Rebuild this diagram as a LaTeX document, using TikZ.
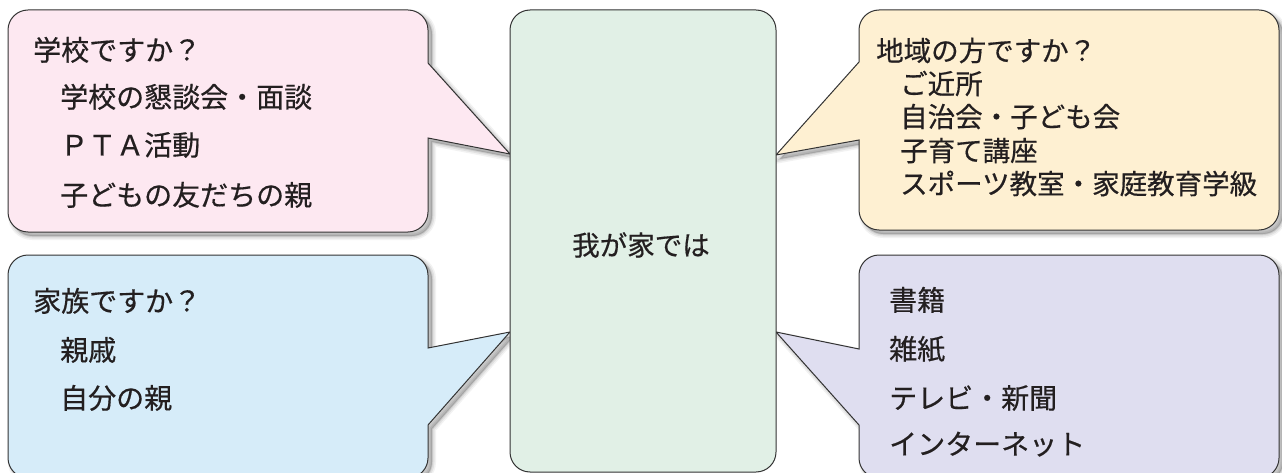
\documentclass[tikz,border=0pt]{standalone}
\usepackage{fontspec}
\setmainfont{Noto Sans CJK JP}[FakeBold=0.5]
\definecolor{cpink}{HTML}{FDE8F1}
\definecolor{corange}{HTML}{FEF0D2}
\definecolor{cblue}{HTML}{D6ECF9}
\definecolor{clav}{HTML}{DFDEF0}
\definecolor{cgreen}{HTML}{E1F0E6}
\definecolor{ctext}{HTML}{231F20}
\definecolor{cline}{HTML}{333333}
\tikzset{
  bub/.style={draw=cline, line width=1pt, line join=miter,
    preaction={draw=black, fill=black, opacity=0.05, line width=8pt, transform canvas={xshift=4pt,yshift=-4pt}},
    preaction={draw=black, fill=black, opacity=0.07, line width=5pt, transform canvas={xshift=4pt,yshift=-4pt}},
    preaction={draw=black, fill=black, opacity=0.09, line width=2pt, transform canvas={xshift=4pt,yshift=-4pt}}},
  txt/.style={anchor=base west, inner sep=0pt, text=ctext, font=\fontsize{28}{30}\selectfont},
  txtr/.style={txt, font=\fontsize{27.5}{30}\selectfont},
  hub/.style={draw=cline, line width=1pt, fill=cgreen, rounded corners=20pt,
    minimum width=266pt, minimum height=462pt, inner sep=0pt}
}
\begin{document}
\begin{tikzpicture}[x=1pt,y=-1pt]
\useasboundingbox (0,0) rectangle (1282,473);
\clip (0,0) rectangle (1282,473);

% top-left bubble
\draw[bub, fill=cpink] (428,138) -- (428,212) .. controls (428,223) and (419,232) .. (408,232) -- (28,232) .. controls (17,232) and (8,223) .. (8,212) -- (8,30) .. controls (8,19) and (17,10) .. (28,10) -- (408,10) .. controls (419,10) and (428,19) .. (428,30) -- (428,63) -- (510,154) -- cycle;
% top-right bubble
\draw[bub, fill=corange] (859,140) -- (859,210) .. controls (859,221) and (868,230) .. (879,230) -- (1259,230) .. controls (1270,230) and (1279,221) .. (1279,210) -- (1279,30) .. controls (1279,19) and (1270,10) .. (1259,10) -- (879,10) .. controls (868,10) and (859,19) .. (859,30) -- (859,62) -- (776,155) -- cycle;
% bottom-left bubble
\draw[bub, fill=cblue] (428,425) -- (428,458) .. controls (428,469) and (419,478) .. (408,478) -- (28,478) .. controls (17,478) and (8,469) .. (8,458) -- (8,275) .. controls (8,264) and (17,255) .. (28,255) -- (408,255) .. controls (419,255) and (428,264) .. (428,275) -- (428,348) -- (510,332) -- cycle;
% bottom-right bubble
\draw[bub, fill=clav] (859,425) -- (859,458) .. controls (859,469) and (868,478) .. (879,478) -- (1259,478) .. controls (1270,478) and (1279,469) .. (1279,458) -- (1279,275) .. controls (1279,264) and (1270,255) .. (1259,255) -- (879,255) .. controls (868,255) and (859,264) .. (859,275) -- (859,349) -- (776,332) -- cycle;

% central box
\node[hub] (home) at (643,241) {};
\node[inner sep=0pt, text=ctext, font=\fontsize{27.5}{30}\selectfont] (homet) at (641,245) {我が家では};

% top-left texts
\node[txt] (s1) at (33,60.5) {学校ですか？};
\node[txt] (s2) at (60,107.5) {学校の懇談会・面談};
\node[txt] (s3) at (60,155.5) {ＰＴＡ活動};
\node[txt] (s4) at (60,205.5) {子どもの友だちの親};

% top-right texts
\node[txtr] (r1) at (876,61) {地域の方ですか？};
\node[txtr] (r2) at (900,94) {ご近所};
\node[txtr] (r3) at (900,127) {自治会・子ども会};
\node[txtr] (r4) at (900,161) {子育て講座};
\node[txtr] (r5) at (900,194) {スポーツ教室・家庭教育学級};

% bottom-left texts
\node[txt] (f1) at (33,311.5) {家族ですか？};
\node[txt] (f2) at (60,360.5) {親戚};
\node[txt] (f3) at (60,408.5) {自分の親};

% bottom-right texts
\node[txt] (m1) at (889,310.5) {書籍};
\node[txt] (m2) at (889,359.5) {雑紙};
\node[txt] (m3) at (889,408.5) {テレビ・新聞};
\node[txt] (m4) at (889,454.5) {インターネット};
\end{tikzpicture}
\end{document}
